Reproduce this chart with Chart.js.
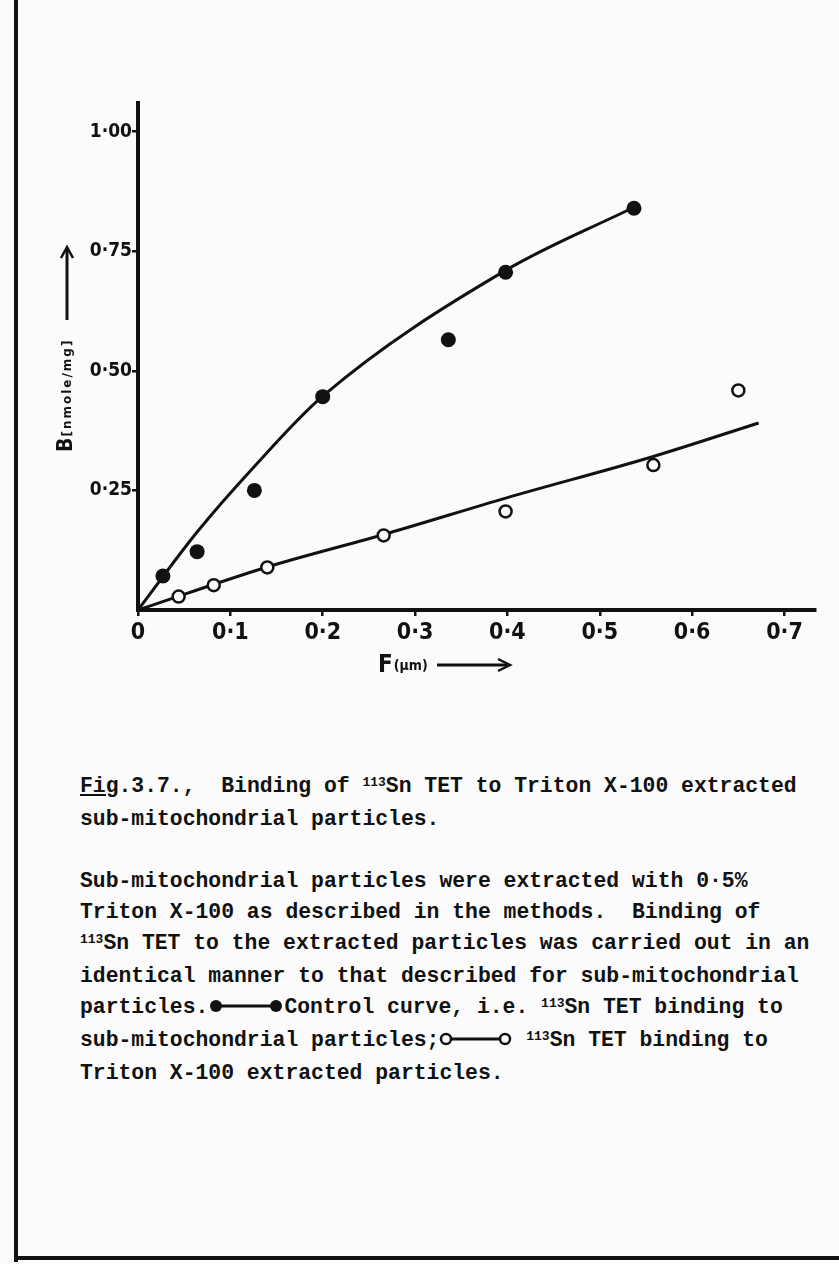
<!DOCTYPE html>
<html>
<head>
<meta charset="utf-8">
<script src="https://cdn.jsdelivr.net/npm/chart.js@4.4.1/dist/chart.umd.min.js"></script>
<style>
  html, body { margin: 0; padding: 0; }
  body { width: 839px; height: 1264px; background: #fbfbfb; position: relative; overflow: hidden; }
  #frameLeft { position: absolute; left: 14px; top: 0; width: 4px; height: 1262px; background: #111; }
  #frameBottom { position: absolute; left: 14px; top: 1256px; width: 825px; height: 4px; background: #111; }
  #plot { position: absolute; left: 0; top: 0; }
  .caption {
    position: absolute; left: 80px; top: 771px;
    font-family: 'Liberation Mono', 'Courier New', 'DejaVu Sans Mono', monospace;
    font-weight: bold; font-size: 21.4px; line-height: 31px; color: #111;
    white-space: pre;
  }
  .caption sup { font-size: 13px; position: relative; top: -6px; vertical-align: baseline; }
  .caption svg { vertical-align: -1px; }
</style>
</head>
<body>
<div id="frameLeft"></div>
<div id="frameBottom"></div>
<canvas id="plot" width="839" height="700"></canvas>

<div class="caption"><u>Fig</u>.3.7.,  Binding of <sup>113</sup>Sn TET to Triton X-100 extracted
sub-mitochondrial particles.

Sub-mitochondrial particles were extracted with 0·5%
Triton X-100 as described in the methods.  Binding of
<sup>113</sup>Sn TET to the extracted particles was carried out in an
identical manner to that described for sub-mitochondrial
particles.<svg width="76" height="16"><line x1="8" y1="8" x2="68" y2="8" stroke="#111" stroke-width="3"/><circle cx="8" cy="8" r="6" fill="#111"/><circle cx="68" cy="8" r="6" fill="#111"/></svg>Control curve, i.e. <sup>113</sup>Sn TET binding to
sub-mitochondrial particles;<svg width="74" height="16"><line x1="7" y1="8" x2="66" y2="8" stroke="#111" stroke-width="3"/><circle cx="7" cy="8" r="5" fill="#fbfbfb" stroke="#111" stroke-width="2.5"/><circle cx="66" cy="8" r="5" fill="#fbfbfb" stroke="#111" stroke-width="2.5"/></svg> <sup>113</sup>Sn TET binding to
Triton X-100 extracted particles.</div>

<script>
// tick positions and labels
const xTickValues = [0, 0.1, 0.2, 0.3, 0.4, 0.5, 0.6, 0.7];
const xTickLabels = ['0', '0·1', '0·2', '0·3', '0·4', '0·5', '0·6', '0·7'];
const yTickValues = [0.25, 0.5, 0.75, 1.0];
const yTickLabels = ['0·25', '0·50', '0·75', '1·00'];

// control (sub-mitochondrial particles) - filled circles
const controlF = [0.027, 0.064, 0.126, 0.200, 0.336, 0.398, 0.537];
const controlB = [0.071, 0.122, 0.250, 0.446, 0.565, 0.706, 0.840];

// Triton X-100 extracted particles - open circles
const tritonF = [0.044, 0.082, 0.140, 0.266, 0.398, 0.558, 0.650];
const tritonB = [0.028, 0.052, 0.089, 0.156, 0.206, 0.303, 0.459];

// hand drawn fitted lines
const controlCurveF = [0, 0.064, 0.125, 0.200, 0.398, 0.537];
const controlCurveB = [0, 0.163, 0.298, 0.447, 0.710, 0.842];
const tritonLineF = [0, 0.140, 0.270, 0.400, 0.558, 0.672];
const tritonLineB = [0, 0.090, 0.160, 0.235, 0.321, 0.391];

const toXY = (xs, ys) => xs.map((x, i) => ({ x: x, y: ys[i] }));

const INK = '#111';
const tickFont = "'Liberation Sans Narrow', 'DejaVu Sans Condensed', 'Liberation Sans', sans-serif";

// axis titles with arrows
const axisTitles = {
  id: 'axisTitles',
  afterDraw(chart) {
    const c = chart.ctx;
    c.save();
    c.fillStyle = INK;
    c.strokeStyle = INK;

    // y title: B[nmole/mg], read bottom to top
    c.save();
    c.translate(72, 452);
    c.rotate(-Math.PI / 2);
    c.textBaseline = 'alphabetic';
    c.font = "bold 21px " + tickFont;
    c.fillText('B', 0, 0);
    const bw = c.measureText('B').width;
    c.font = "bold 12px 'DejaVu Sans', sans-serif";
    c.letterSpacing = '2px';
    c.fillText('[nmole/mg]', bw + 1, -1);
    c.restore();

    // y arrow
    c.lineWidth = 3;
    c.beginPath();
    c.moveTo(67, 320); c.lineTo(67, 249);
    c.stroke();
    c.lineWidth = 2.5;
    c.beginPath();
    c.moveTo(61, 258); c.lineTo(67, 247); c.lineTo(73, 258);
    c.stroke();

    // x title: F(µm) with arrow
    c.textBaseline = 'alphabetic';
    c.font = "bold 24px " + tickFont;
    c.fillText('F', 378, 672);
    const fw = c.measureText('F').width;
    c.font = "bold 14px " + tickFont;
    c.fillText('(µm)', 378 + fw + 1, 670);
    c.lineWidth = 3;
    c.beginPath();
    c.moveTo(437, 665); c.lineTo(507, 665);
    c.stroke();
    c.lineWidth = 2.5;
    c.beginPath();
    c.moveTo(498, 659); c.lineTo(510, 665); c.lineTo(498, 671);
    c.stroke();
    c.restore();
  }
};

const cfg = {
  type: 'scatter',
  data: {
    datasets: [
      {
        label: 'Control',
        data: toXY(controlF, controlB),
        showLine: false,
        pointRadius: 7.5,
        pointBackgroundColor: INK,
        pointBorderColor: INK,
        pointBorderWidth: 0,
        order: 1
      },
      {
        label: 'Triton X-100 extracted',
        data: toXY(tritonF, tritonB),
        showLine: false,
        pointRadius: 6,
        pointBackgroundColor: '#fbfbfb',
        pointBorderColor: INK,
        pointBorderWidth: 2.5,
        order: 1
      },
      {
        label: 'Control curve',
        data: toXY(controlCurveF, controlCurveB),
        showLine: true,
        borderColor: INK,
        borderWidth: 3,
        pointRadius: 0,
        cubicInterpolationMode: 'monotone',
        order: 2
      },
      {
        label: 'Triton line',
        data: toXY(tritonLineF, tritonLineB),
        showLine: true,
        borderColor: INK,
        borderWidth: 3,
        pointRadius: 0,
        cubicInterpolationMode: 'monotone',
        order: 2
      }
    ]
  },
  options: {
    responsive: false,
    animation: false,
    layout: { padding: { top: 103, right: 24, bottom: 0, left: 0 } },
    plugins: {
      legend: { display: false },
      tooltip: { enabled: false }
    },
    scales: {
      x: {
        type: 'linear',
        min: 0,
        max: 0.733,
        afterBuildTicks: s => { s.ticks = xTickValues.map(v => ({ value: v })); },
        afterFit: s => { s.height = 90; },
        ticks: {
          autoSkip: false,
          maxRotation: 0,
          padding: 3,
          color: INK,
          font: { family: tickFont, size: 23, weight: 'bold' },
          callback: (v, i) => xTickLabels[i]
        },
        grid: { drawOnChartArea: false, drawTicks: true, tickLength: 6, color: INK, lineWidth: 2.5 },
        border: { color: INK, width: 4 }
      },
      y: {
        type: 'linear',
        min: 0,
        max: 1.06,
        afterBuildTicks: s => { s.ticks = yTickValues.map(v => ({ value: v })); },
        afterFit: s => { s.width = 138; },
        ticks: {
          autoSkip: false,
          padding: 0,
          color: INK,
          font: { family: tickFont, size: 19, weight: 'bold' },
          callback: (v, i) => yTickLabels[i]
        },
        grid: { drawOnChartArea: false, drawTicks: true, tickLength: 6, color: INK, lineWidth: 2.5 },
        border: { color: INK, width: 4 }
      }
    }
  },
  plugins: [axisTitles]
};

const plot = new Chart(document.getElementById('plot').getContext('2d'), cfg);
</script>
</body>
</html>
